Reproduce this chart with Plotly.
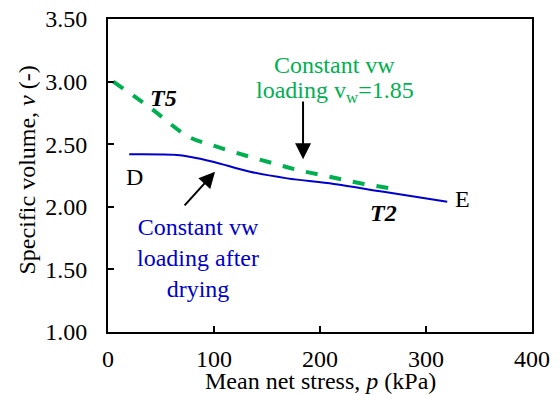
import plotly.graph_objects as go

# Data
green_p = [5, 40, 76, 99, 128, 156, 181, 209, 238, 272]
green_v = [3.00, 2.79, 2.56, 2.49, 2.414, 2.347, 2.29, 2.24, 2.188, 2.14]
blue_p = [20, 65, 77, 99, 134, 169, 213, 260, 320]
blue_v = [2.419, 2.414, 2.40, 2.36, 2.28, 2.227, 2.182, 2.12, 2.041]
x_ticks = [0, 100, 200, 300, 400]
y_ticks = [1.0, 1.5, 2.0, 2.5, 3.0, 3.5]

FONT = "Liberation Serif"
GREEN = "#00B050"
BLUE = "#0000CC"
FS = 24
TFS = 24

fig = go.Figure()
fig.add_trace(go.Scatter(x=green_p, y=green_v, mode="lines",
                         line=dict(color=GREEN, width=4, dash="dash", shape="spline"),
                         showlegend=False))
fig.add_trace(go.Scatter(x=blue_p, y=blue_v, mode="lines",
                         line=dict(color=BLUE, width=2, shape="spline"),
                         showlegend=False))

ann = []
ann.append(dict(x=214, y=3.13, text="Constant vw", showarrow=False,
                font=dict(color=GREEN, size=FS, family=FONT)))
ann.append(dict(x=214, y=2.915, text="loading v<sub>w</sub>=1.85", showarrow=False,
                font=dict(color=GREEN, size=FS, family=FONT)))
ann.append(dict(x=85, y=1.589, text="Constant vw<br>loading after<br>drying", showarrow=False,
                font=dict(color=BLUE, size=FS, family=FONT), yanchor="middle"))
ann.append(dict(x=52, y=2.87, text="<b><i>T5</i></b>", showarrow=False,
                font=dict(color="black", size=FS, family=FONT)))
ann.append(dict(x=260, y=1.95, text="<b><i>T2</i></b>", showarrow=False,
                font=dict(color="black", size=FS, family=FONT)))
ann.append(dict(x=25, y=2.24, text="D", showarrow=False,
                font=dict(color="black", size=FS, family=FONT)))
ann.append(dict(x=334, y=2.06, text="E", showarrow=False,
                font=dict(color="black", size=FS, family=FONT)))
# axis titles
ann.append(dict(xref="paper", yref="paper", x=0.5, y=0, yanchor="middle", yshift=-49,
                text="Mean net stress, <i>p</i> (kPa)", showarrow=False,
                font=dict(color="black", size=FS, family=FONT)))
ann.append(dict(xref="paper", yref="paper", x=0, y=0.5, xanchor="center", yanchor="middle",
                xshift=-82, yshift=5, textangle=-90,
                text="Specific volume, <i>v</i> (-)", showarrow=False,
                font=dict(color="black", size=FS, family=FONT)))
# arrows
ann.append(dict(x=184, y=2.38, ax=184, ay=2.853, axref="x", ayref="y", xref="x", yref="y",
                text="", showarrow=True, arrowhead=2, arrowsize=1.6, arrowwidth=2, arrowcolor="black"))
ann.append(dict(x=101, y=2.28, ax=71, ay=2.0, axref="x", ayref="y", xref="x", yref="y",
                text="", showarrow=True, arrowhead=2, arrowsize=1.6, arrowwidth=2, arrowcolor="black"))

fig.update_layout(
    width=559, height=396,
    margin=dict(l=108, r=27, t=19, b=64),
    paper_bgcolor="white", plot_bgcolor="white",
    font=dict(family=FONT, size=FS, color="black"),
    annotations=ann,
    xaxis=dict(range=[0, 400], tickvals=x_ticks, ticktext=[str(v) for v in x_ticks],
               ticks="inside", ticklen=6, tickwidth=2, tickcolor="#000000",
               showline=True, linecolor="#000000", linewidth=2, mirror=True,
               showgrid=False, zeroline=False, automargin=False,
               tickfont=dict(size=TFS, family=FONT), ticklabelstandoff=4),
    yaxis=dict(range=[1.0, 3.5], tickvals=y_ticks, ticktext=[f"{v:.2f}" for v in y_ticks],
               ticks="inside", ticklen=6, tickwidth=2, tickcolor="#000000",
               showline=True, linecolor="#000000", linewidth=2, mirror=True,
               showgrid=False, zeroline=False, automargin=False,
               tickfont=dict(size=TFS, family=FONT), ticklabelstandoff=14),
)

fig.write_html("out.html", config={"displayModeBar": False},
               post_script="document.body.style.margin='0';document.body.style.padding='0';")
